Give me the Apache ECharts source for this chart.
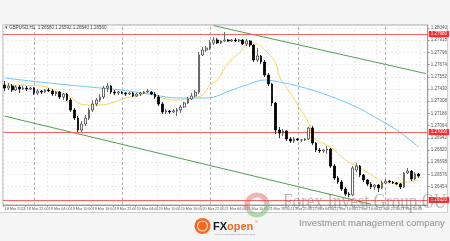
<!DOCTYPE html>
<html><head><meta charset="utf-8">
<script src="https://cdn.jsdelivr.net/npm/echarts@6/dist/echarts.min.js"></script>
<style>
html,body{margin:0;padding:0;background:#f5f5f5;}
#wrap{position:relative;width:450px;height:241px;overflow:hidden;}
#win{position:absolute;left:0;top:25px;width:448px;height:188px;background:#fff;border-right:1px solid #cfcfcf;border-bottom:1px solid #cfcfcf;box-sizing:border-box;}
#chart{position:absolute;left:0;top:0;width:450px;height:241px;}
</style></head><body>
<div id="wrap"><div id="win"></div><div id="chart"></div></div>
<script>
// ---- data (GBPUSD, H1) ----
const opens  = [1.2747,1.2744,1.2746,1.2742,1.2745,1.2743,1.2744,1.2743,1.2744,1.2739,1.2741,1.2740,1.2742,1.2741,1.2738,1.2740,1.2735,1.2738,1.2732,1.2722,
1.2714,1.2702,1.2708,1.2714,1.2722,1.2728,1.2732,1.2735,1.2744,1.2746,1.2740,1.2739,1.2740,1.2739,1.2738,1.2739,1.2736,1.2738,1.2739,1.2740,
1.2740,1.2738,1.2735,1.2728,1.2720,1.2721,1.2720,1.2721,1.2722,1.2725,1.2729,1.2733,1.2736,1.2740,1.2777,1.2782,1.2784,1.2789,1.2792,1.2789,
1.2791,1.2792,1.2791,1.2792,1.2791,1.2792,1.2788,1.2791,1.2787,1.2772,1.2776,1.2770,1.2757,1.2748,1.2729,1.2702,1.2699,1.2701,1.2693,1.2691,
1.2693,1.2692,1.2692,1.2693,1.2704,1.2689,1.2682,1.2681,1.2682,1.2683,1.2666,1.2654,1.2650,1.2643,1.2638,1.2637,1.2662,1.2666,1.2657,1.2652,
1.2648,1.2645,1.2647,1.2644,1.2649,1.2651,1.2650,1.2649,1.2648,1.2645,1.2659,1.2661,1.2653,1.2658];
const closes = [1.2744,1.2746,1.2742,1.2745,1.2743,1.2744,1.2743,1.2744,1.2739,1.2741,1.2740,1.2742,1.2741,1.2738,1.2740,1.2735,1.2738,1.2732,1.2722,1.2714,
1.2702,1.2708,1.2714,1.2722,1.2728,1.2732,1.2735,1.2744,1.2746,1.2740,1.2739,1.2740,1.2739,1.2738,1.2739,1.2736,1.2738,1.2739,1.2740,1.2741,
1.2738,1.2735,1.2728,1.2720,1.2721,1.2720,1.2721,1.2722,1.2725,1.2729,1.2733,1.2736,1.2740,1.2777,1.2782,1.2784,1.2789,1.2792,1.2789,1.2791,
1.2792,1.2791,1.2792,1.2791,1.2792,1.2788,1.2791,1.2787,1.2772,1.2776,1.2770,1.2757,1.2748,1.2729,1.2702,1.2699,1.2701,1.2693,1.2691,1.2693,
1.2692,1.2692,1.2693,1.2704,1.2689,1.2682,1.2681,1.2682,1.2683,1.2666,1.2654,1.2650,1.2643,1.2638,1.2637,1.2664,1.2666,1.2657,1.2652,1.2648,
1.2645,1.2647,1.2644,1.2649,1.2651,1.2650,1.2649,1.2648,1.2645,1.2659,1.2661,1.2653,1.2658,1.2656];
const lows   = [1.2741,1.2742,1.2740,1.2741,1.2739,1.2742,1.2741,1.2742,1.2737,1.2737,1.2738,1.2739,1.2740,1.2736,1.2736,1.2733,1.2732,1.2731,1.2720,1.2712,
1.2700,1.2700,1.2706,1.2712,1.2720,1.2726,1.2730,1.2733,1.2740,1.2738,1.2737,1.2737,1.2738,1.2736,1.2737,1.2735,1.2735,1.2736,1.2738,1.2739,
1.2737,1.2733,1.2726,1.2718,1.2718,1.2718,1.2719,1.2716,1.2719,1.2724,1.2728,1.2732,1.2735,1.2738,1.2776,1.2780,1.2782,1.2787,1.2788,1.2788,
1.2790,1.2790,1.2790,1.2790,1.2790,1.2787,1.2786,1.2785,1.2770,1.2770,1.2768,1.2755,1.2746,1.2726,1.2698,1.2694,1.2696,1.2691,1.2689,1.2689,
1.2691,1.2690,1.2691,1.2692,1.2687,1.2680,1.2679,1.2679,1.2678,1.2664,1.2652,1.2648,1.2641,1.2636,1.2635,1.2636,1.2660,1.2655,1.2650,1.2646,
1.2643,1.2642,1.2640,1.2643,1.2648,1.2649,1.2648,1.2647,1.2643,1.2644,1.2658,1.2651,1.2652,1.2654];
const highs  = [1.2751,1.2749,1.2748,1.2747,1.2747,1.2746,1.2746,1.2745,1.2745,1.2743,1.2742,1.2743,1.2744,1.2743,1.2741,1.2741,1.2739,1.2739,1.2734,1.2724,
1.2716,1.2711,1.2717,1.2724,1.2732,1.2734,1.2738,1.2746,1.2749,1.2747,1.2742,1.2741,1.2741,1.2740,1.2740,1.2740,1.2739,1.2740,1.2741,1.2743,
1.2741,1.2740,1.2737,1.2730,1.2723,1.2722,1.2723,1.2724,1.2727,1.2730,1.2735,1.2739,1.2742,1.2780,1.2785,1.2786,1.2792,1.2795,1.2794,1.2792,
1.2800,1.2793,1.2793,1.2794,1.2793,1.2793,1.2793,1.2792,1.2788,1.2784,1.2777,1.2772,1.2759,1.2749,1.2730,1.2705,1.2703,1.2702,1.2695,1.2695,
1.2694,1.2693,1.2694,1.2705,1.2706,1.2690,1.2684,1.2683,1.2686,1.2684,1.2668,1.2656,1.2652,1.2645,1.2640,1.2666,1.2669,1.2667,1.2658,1.2653,
1.2650,1.2648,1.2648,1.2651,1.2653,1.2652,1.2651,1.2650,1.2649,1.2660,1.2664,1.2662,1.2660,1.2659];
// moving averages: [bar index, price] points
const yellowMA = [[0,1.2747],[10,1.2746],[14,1.2741],[18,1.2735],[20,1.2729],[23,1.2727],[26,1.2727],[29,1.2729],[33,1.2734],[37,1.2737],
[39,1.2739],[43,1.2734],[47,1.2732],[51,1.2734],[54,1.2737],[56,1.2747],[58,1.2752],[61,1.2769],[64,1.2779],[66,1.2787],[68,1.2789],
[71,1.2782],[74,1.2769],[75,1.2755],[78,1.2739],[80,1.2727],[83,1.2709],[84,1.2697],[85,1.2692],[89,1.2685],[93,1.2672],[98,1.2662],
[101,1.2655],[104,1.2649],[107,1.2649],[110,1.2650],[113,1.2652]];
const blueMA = [[0,1.2754],[12,1.2749],[26,1.2744],[34,1.2741],[39,1.2738],[48,1.2734],[55,1.2734],[62,1.2742],[66,1.2747],[71,1.2752],
[75,1.2750],[80,1.2746],[88,1.2737],[96,1.2725],[101,1.2715],[107,1.2702],[113,1.2685]];
const redLevels = [1.2798, 1.2700, 1.2632];
const upperChannel = [[57,1.28064],[115,1.27584]];
const lowerChannel = [[0,1.27158],[100,1.26278]];
const separators = [8, 32, 56, 80, 104];
const yTicks = [1.26454,1.26576,1.26698,1.26820,1.26942,1.27064,1.27186,1.27308,1.27430,1.27552,1.27674,1.27796,1.27918,1.28040];
const yMin = 1.2627, yMax = 1.2807;
const dayNames = ['18 Mar','19 Mar','20 Mar','21 Mar','22 Mar','23 Mar'];
const firstHour = 16, barCount = 116;
const categories = [];
for (let i = 0; i < barCount; i++) {
  const h = firstHour + i;
  categories.push(dayNames[Math.floor(h / 24)] + ' ' + String(h % 24).padStart(2, '0') + ':00');
}
const candles = opens.map((o, i) => [o, closes[i], lows[i], highs[i]]);
const last = closes[closes.length - 1];

const FONT = 'Liberation Sans';
const chart = echarts.init(document.getElementById('chart'), null, {renderer: 'canvas'});
chart.setOption({
  animation: false,
  textStyle: {fontFamily: FONT},
  grid: {left: 3, top: 25, width: 429, height: 180, show: true, borderColor: '#a8a8a8', borderWidth: 1, backgroundColor: 'transparent'},
  xAxis: {
    type: 'category', data: categories, boundaryGap: true,
    axisLine: {lineStyle: {color: '#999'}},
    axisTick: {show: true, interval: 5, length: 2, lineStyle: {color: '#999'}},
    axisLabel: {interval: 5, showMinLabel: true, hideOverlap: false, fontSize: 3.7, color: '#555', align: 'left', margin: 2, fontFamily: FONT,
      formatter: (v, i) => i === 0 ? '18 Mar 2024' : (i > 110 ? '' : v)},
    splitLine: {show: true, interval: 5, lineStyle: {color: '#e9e9e9', type: [2, 2], width: 1}}
  },
  yAxis: {
    type: 'value', position: 'right', min: yMin, max: yMax, scale: true,
    axisLine: {show: true, lineStyle: {color: '#999'}},
    axisTick: {show: true, length: 2, customValues: yTicks, lineStyle: {color: '#999'}},
    axisLabel: {customValues: yTicks, fontSize: 4.5, color: '#555', margin: 3, fontFamily: FONT, formatter: v => v.toFixed(5)},
    splitLine: {show: true, lineStyle: {color: '#e9e9e9', type: [2, 2], width: 1}}
  },
  series: [
    {
      type: 'line', data: [], silent: true, z: 1,
      markLine: {
        silent: true, symbol: 'none', animation: false, precision: 5,
        label: {show: false},
        lineStyle: {color: '#b5b5b5', type: [3, 2], width: 1},
        data: separators.map(s => ({xAxis: categories[s]}))
      }
    },
    {
      type: 'line', data: [], silent: true, z: 3,
      markLine: {
        silent: true, symbol: 'none', animation: false, precision: 5,
        lineStyle: {color: '#4f9f4f', type: 'solid', width: 1},
        label: {show: false},
        data: [
          [{coord: upperChannel[0]}, {coord: upperChannel[1]}],
          [{coord: lowerChannel[0]}, {coord: lowerChannel[1]}]
        ]
      }
    },
    {
      type: 'line', data: [], silent: true, z: 3,
      markLine: {
        silent: true, symbol: 'none', animation: false, precision: 5,
        lineStyle: {color: '#ff6060', type: 'solid', width: 1},
        label: {show: true, position: 'end', distance: 1, fontSize: 4.5, color: '#fff', backgroundColor: '#ff2a2a',
          padding: [1, 2, 0, 2], fontFamily: FONT, formatter: p => Number(p.value).toFixed(5)},
        data: redLevels.map(v => ({yAxis: v}))
      }
    },
    {
      type: 'line', data: yellowMA, smooth: 0.4, showSymbol: false, silent: true, z: 4,
      lineStyle: {color: '#f8d35e', width: 1}
    },
    {
      type: 'line', data: blueMA, smooth: 0.4, showSymbol: false, silent: true, z: 4,
      lineStyle: {color: '#6cc9f0', width: 1}
    },
    {
      type: 'candlestick', data: candles, barWidth: 2.2, z: 5,
      itemStyle: {color: '#ffffff', color0: '#000000', borderColor: '#444', borderColor0: '#000', borderWidth: 0.8},
      markLine: {
        silent: true, symbol: 'none', animation: false, precision: 5,
        lineStyle: {opacity: 0},
        label: {show: true, position: 'end', distance: 1, fontSize: 4.5, color: '#fff', backgroundColor: '#000',
          padding: [1, 2, 0, 2], fontFamily: FONT, formatter: p => Number(p.value).toFixed(5)},
        data: [{yAxis: last}]
      }
    }
  ],
  graphic: [
    {type: 'text', left: 5, top: 25.5, silent: true, z: 10,
      style: {text: '▾ GBPUSD,H1  1.26580 1.26592 1.26540 1.26560', fontSize: 4.5, fill: '#444', fontFamily: FONT}},
    {type: 'text', x: 283, y: 191, silent: true, z: 20, scaleX: 0.78,
      style: {text: 'Forex Invest Group.OU', fontSize: 22, fill: 'rgba(95,95,95,0.42)', fontFamily: 'Liberation Sans Narrow', fontWeight: 'normal'}},
    {type: 'text', x: 299, y: 218, silent: true, z: 20,
      style: {text: 'Investment management company', fontSize: 9.5, fill: '#8c8c8c', fontFamily: FONT}},
    {type: 'arc', silent: true, z: 19, shape: {cx: 257, cy: 205, r: 10, startAngle: Math.PI * 0.85, endAngle: Math.PI * 1.95},
      style: {stroke: 'rgba(215,90,90,0.45)', lineWidth: 5, fill: null}},
    {type: 'arc', silent: true, z: 19, shape: {cx: 257, cy: 205, r: 10, startAngle: Math.PI * -0.05, endAngle: Math.PI * 0.85},
      style: {stroke: 'rgba(110,175,100,0.45)', lineWidth: 5, fill: null}},
    {type: 'circle', silent: true, z: 20, shape: {cx: 202.5, cy: 226, r: 8}, style: {fill: '#f26a21'}},
    {type: 'circle', silent: true, z: 21, shape: {cx: 202.5, cy: 226, r: 5}, style: {fill: 'none', stroke: '#ffd2b5', lineWidth: 1.2}},
    {type: 'text', x: 213, y: 221, silent: true, z: 20,
      style: {text: '{a|FX}{b|open}', rich: {a: {fontSize: 11, fontWeight: 'bold', fill: '#1a1a1a', fontFamily: FONT},
        b: {fontSize: 11, fontWeight: 'bold', fill: '#f26a21', fontFamily: FONT}}}},
    {type: 'text', x: 255, y: 220, silent: true, z: 20, style: {text: '®', fontSize: 4, fill: '#f26a21', fontFamily: FONT}},
    {type: 'text', x: 215, y: 233, silent: true, z: 20, style: {text: 'Forex & CFD Brokerage Since 2005', fontSize: 2.5, fill: '#888', fontFamily: FONT}}
  ]
});
</script>
</body></html>
